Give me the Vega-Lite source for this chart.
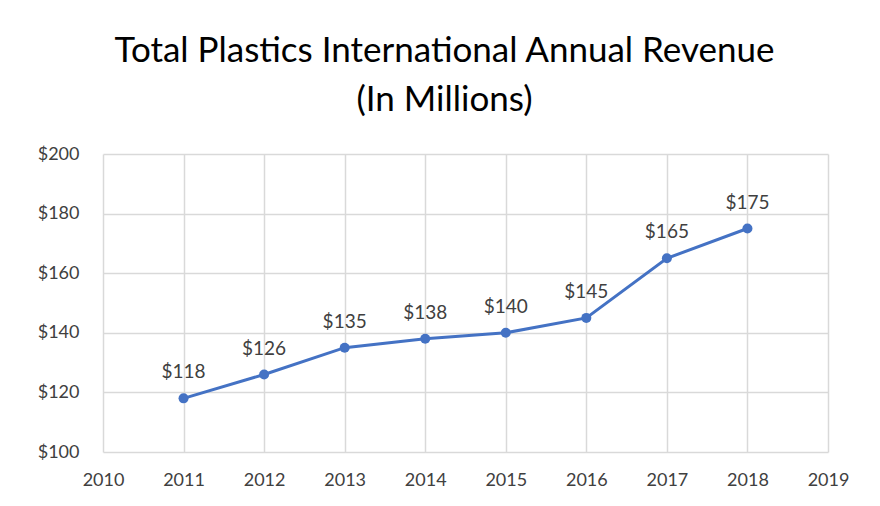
{
  "$schema": "https://vega.github.io/schema/vega-lite/v6.json",
  "width": 725,
  "height": 298,
  "autosize": {"type": "none"},
  "padding": {"left": 103, "top": 154, "right": 52, "bottom": 54},
  "background": "white",
  "title": {
    "text": ["Total Plastics International Annual Revenue", "(In Millions)"],
    "font": "Lato",
    "fontSize": 35,
    "fontWeight": "normal",
    "color": "#000000",
    "lineHeight": 49,
    "anchor": "middle",
    "dx": -21,
    "offset": 27
  },
  "config": {
    "view": {"stroke": null},
    "axis": {
      "labelFont": "Lato",
      "labelFontSize": 18,
      "labelColor": "#404040",
      "gridColor": "#d9d9d9",
      "gridWidth": 1.5,
      "domain": false,
      "ticks": false,
      "title": null
    }
  },
  "data": {
    "values": [
      {"year": 2011, "revenue": 118},
      {"year": 2012, "revenue": 126},
      {"year": 2013, "revenue": 135},
      {"year": 2014, "revenue": 138},
      {"year": 2015, "revenue": 140},
      {"year": 2016, "revenue": 145},
      {"year": 2017, "revenue": 165},
      {"year": 2018, "revenue": 175}
    ]
  },
  "encoding": {
    "x": {
      "field": "year",
      "type": "quantitative",
      "scale": {"domain": [2010, 2019], "nice": false, "zero": false},
      "axis": {
        "values": [2010, 2011, 2012, 2013, 2014, 2015, 2016, 2017, 2018, 2019],
        "format": "d",
        "grid": true,
        "labelPadding": 19,
        "labelFlush": false,
        "labelOverlap": false
      }
    },
    "y": {
      "field": "revenue",
      "type": "quantitative",
      "scale": {"domain": [100, 200], "nice": false, "zero": false},
      "axis": {
        "values": [100, 120, 140, 160, 180, 200],
        "labelExpr": "'$' + datum.value",
        "grid": true,
        "labelPadding": 24,
        "labelFlush": false,
        "labelOverlap": false
      }
    }
  },
  "layer": [
    {"mark": {"type": "line", "color": "#4472C4", "strokeWidth": 3}},
    {"mark": {"type": "point", "filled": true, "color": "#4472C4", "size": 100, "opacity": 1}},
    {
      "mark": {"type": "text", "font": "Lato", "fontSize": 19, "color": "#404040", "dy": -26, "baseline": "middle"},
      "encoding": {"text": {"field": "revenue", "type": "quantitative", "format": "$d"}}
    }
  ]
}
